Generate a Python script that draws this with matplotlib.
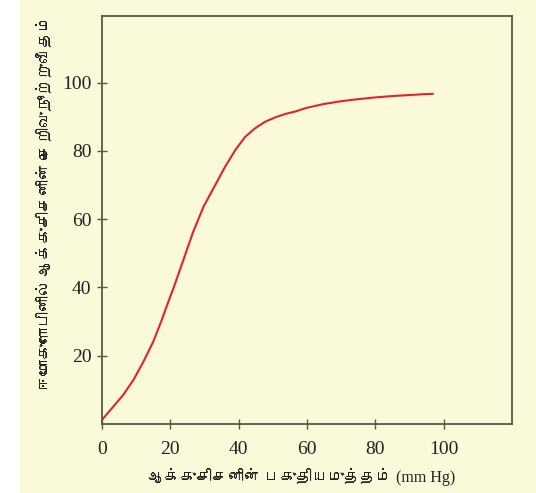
import matplotlib
matplotlib.use("Agg")
import matplotlib.pyplot as plt
from matplotlib import font_manager
from matplotlib.ft2font import FT2Font

# curve
pressure = [0, 3.3, 6.2, 9.2, 12.1, 15.0, 17.5, 19.6, 20.9, 23.8, 26.7, 29.7,
            32.6, 36.0, 39.0, 41.9, 44.8, 47.7, 50.7, 53.6, 56.5, 59.9, 64.8,
            69.7, 74.6, 79.4, 84.3, 89.2, 94.1, 96.8]
saturation = [1.2, 5.1, 8.5, 12.9, 18.2, 24.1, 30.5, 36.3, 39.7, 48.0, 56.3, 63.6,
              69.0, 75.3, 80.2, 84.1, 86.6, 88.5, 89.8, 90.8, 91.5, 92.6, 93.7,
              94.5, 95.1, 95.6, 96.0, 96.3, 96.6, 96.7]

xticks = [0, 20, 40, 60, 80, 100]
yticks = [20, 40, 60, 80, 100]

xlabel = "ஆக்குசிசனின் பகுதியமுத்தம் (mm Hg)"
ylabel = "ஈமோகுளோபினில் ஆக்குசிசனின் செறிவுநூற்றுவீதம்"


def tamil_fonts():
    found = []
    for f in font_manager.fontManager.ttflist:
        try:
            if 0x0B95 in FT2Font(f.fname).get_charmap():
                if f.name not in found:
                    found.append(f.name)
        except Exception:
            pass
    return found


tam = tamil_fonts()
fam = ["Liberation Serif"] + tam + ["DejaVu Sans"]

bg = "#faf9d9"
W, H = 536, 493
fig = plt.figure(figsize=(W / 100, H / 100), dpi=100, facecolor=bg)
fig.patches.append(plt.Rectangle((0, 0), 20 / W, 1, transform=fig.transFigure,
                                 facecolor="white", edgecolor="none", zorder=0))
ax = fig.add_axes([102 / W, 1 - 424 / H, 410 / W, 408 / H])
ax.set_facecolor(bg)

ax.plot(pressure, saturation, color="#e0242a", lw=1.5)

ax.set_xlim(0, 120)
ax.set_ylim(0, 119.5)
ax.set_xticks(xticks)
ax.set_yticks(yticks)
for s in ax.spines.values():
    s.set_color("#55584a")
    s.set_linewidth(1.3)
ax.tick_params(direction="inout", length=7, width=1, color="#55584a")
ax.tick_params(axis="x", pad=9)
ax.tick_params(axis="y", pad=4)
for lab in ax.get_xticklabels() + ax.get_yticklabels():
    lab.set_family("Liberation Serif")
    lab.set_fontsize(14)
    lab.set_color("#222222")

fig.text(302 / W, 1 - 477 / H, xlabel, family=fam, fontsize=11.5, color="#222222",
         ha="center", va="center")
fig.text(46 / W, 1 - 203 / H, ylabel, family=fam, fontsize=11.5, color="#222222",
         ha="center", va="center", rotation=90)

fig.savefig("out.png", dpi=100, facecolor=bg)
